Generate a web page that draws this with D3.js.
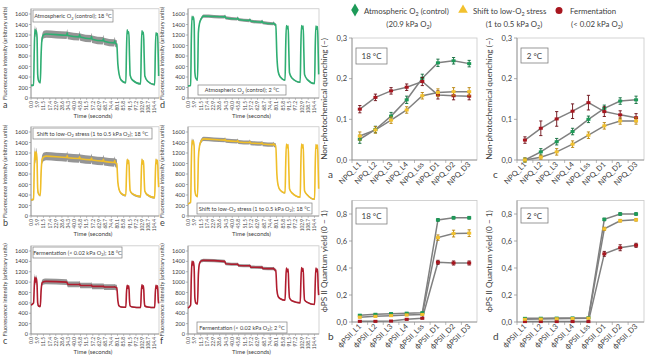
<!DOCTYPE html>
<html><head><meta charset="utf-8">
<script src="https://cdn.jsdelivr.net/npm/d3@7"></script>
<style>body{margin:0;background:#fff} svg{display:block} text{font-family:Lato,"Open Sans",sans-serif;fill:#404040}</style>
</head><body><svg id="c" width="650" height="364"></svg>
<script>
// ---------- DATA ----------
const timeKeys = [0,2.4,3.0,3.6,4.4,5.0,5.6,6.2,7.0,8.6,9.4,10.4,12.0,14.0,33.0,33.5,34.1,44.5,45.0,45.6,55.5,56.0,56.6,66.5,67.0,67.6,77.0,77.5,78.1,79.4,80.4,81.6,83.5,87.8,88.4,89.0,89.8,90.6,91.2,91.8,94.0,101.5,102.1,102.7,103.5,104.2,104.8,105.4,108.0,114.5,115.1,115.7,116.5,117.2,117.8,118.2];
const lightPhase = [0,0,1,1,1,1,1,1,0,0,1,1,1,1,1,1,1,1,1,1,1,1,1,1,1,1,1,1,1,1,0,0,0,0,0,0,0,0,0,0,0,0,0,0,0,0,0,0,0,0,0,0,0,0,0,0];
const timeTickLabels = ["0.0","5.9","11.5","17.4","22.9","28.6","34.3","40.0","45.8","51.5","57.2","62.9","68.7","74.4","80.1","85.8","91.5","97.2","102.9","108.7","114.4"];
const fluorTicks = [0,200,400,600,800,1000,1200,1400,1600];

const fluorControl18 = [240,245,900,1310,1230,1280,1150,450,330,290,850,1150,1210,1220,1195,1240,1190,1165,1210,1160,1130,1170,1120,1090,1130,1080,1050,1090,1040,1030,650,450,340,290,900,1300,1230,1260,800,430,340,270,900,1280,1220,1250,780,420,320,255,880,1240,1200,1230,780,420];
const fluorLowO2_18 = [305,320,900,1230,1080,1220,1050,520,420,390,850,1080,1130,1140,1115,1150,1110,1095,1130,1090,1070,1105,1065,1045,1080,1040,1020,1055,1010,1000,650,500,430,390,800,1080,1000,1060,700,480,420,370,800,1080,990,1050,700,470,400,350,780,1080,1000,1060,700,550];
const fluorFerm18 = [560,600,900,1100,1000,1080,950,600,540,530,850,990,1010,1015,1000,985,955,955,965,935,935,945,918,918,925,905,905,910,900,895,650,540,520,515,800,940,880,930,650,540,520,510,800,950,880,930,650,540,520,510,800,940,880,930,650,590];
const fluorControl2 = [230,240,1100,1550,1500,1540,1400,500,380,340,1250,1420,1510,1560,1545,1560,1525,1505,1525,1495,1475,1495,1465,1445,1465,1435,1415,1430,1405,1395,800,500,400,340,1000,1380,1320,1370,900,480,380,300,1000,1380,1320,1370,880,450,350,275,980,1370,1310,1360,850,450];
const fluorLowO2_2 = [230,260,1000,1440,1380,1430,1300,500,400,370,1100,1330,1430,1470,1445,1460,1435,1420,1435,1410,1400,1415,1390,1380,1395,1370,1360,1375,1350,1345,800,580,490,440,1000,1370,1300,1360,900,520,440,360,1000,1370,1300,1360,880,480,400,320,980,1360,1290,1350,880,520];
const fluorFerm2 = [500,560,1100,1400,1330,1390,1250,700,600,580,1150,1360,1410,1420,1400,1390,1355,1345,1350,1320,1315,1320,1290,1285,1290,1265,1260,1265,1240,1230,850,720,680,650,1000,1270,1200,1250,900,700,640,600,1000,1280,1210,1260,880,660,610,570,980,1270,1200,1250,880,750];
// band half-widths [dark, light]
const sdControl18 = [15,70], sdLowO2_18 = [20,80], sdFerm18 = [15,55];
const sdControl2 = [12,30], sdLowO2_2 = [12,40], sdFerm2 = [12,30];

const npqCats = ["NPQ_L1","NPQ_L2","NPQ_L3","NPQ_L4","NPQ_Lss","NPQ_D1","NPQ_D2","NPQ_D3"];
const phiCats = ["ϕPSII_L1","ϕPSII_L2","ϕPSII_L3","ϕPSII_L4","ϕPSII_Lss","ϕPSII_D1","ϕPSII_D2","ϕPSII_D3"];
const npqTicks = [0,0.1,0.2,0.3];
const phiTicks = [0,0.2,0.4,0.6,0.8];

const npq18Control = [0.051,0.075,0.108,0.148,0.201,0.239,0.244,0.237];
const npq18Shift   = [0.059,0.074,0.098,0.123,0.158,0.166,0.168,0.168];
const npq18Ferm    = [0.125,0.154,0.170,0.179,0.193,0.160,0.158,0.157];
const npq18ControlErr = [0.010,0.008,0.009,0.009,0.010,0.009,0.008,0.008];
const npq18ShiftErr   = [0.010,0.008,0.008,0.008,0.008,0.009,0.010,0.010];
const npq18FermErr    = [0.009,0.008,0.008,0.008,0.010,0.010,0.010,0.009];

const npq2Control = [0.000,0.020,0.045,0.070,0.100,0.127,0.145,0.148];
const npq2Shift   = [0.000,0.007,0.020,0.039,0.061,0.084,0.096,0.096];
const npq2Ferm    = [0.049,0.078,0.101,0.120,0.141,0.119,0.111,0.104];
const npq2ControlErr = [0.005,0.008,0.008,0.008,0.008,0.008,0.008,0.009];
const npq2ShiftErr   = [0.005,0.005,0.008,0.008,0.008,0.008,0.008,0.008];
const npq2FermErr    = [0.008,0.018,0.018,0.018,0.018,0.012,0.010,0.010];

const phi18Control = [0.050,0.057,0.062,0.065,0.068,0.756,0.772,0.772];
const phi18Shift   = [0.036,0.042,0.047,0.052,0.056,0.625,0.655,0.658];
const phi18Ferm    = [0.005,0.005,0.007,0.020,0.028,0.442,0.437,0.437];
const phi18ControlErr = [0.006,0.006,0.006,0.006,0.006,0.010,0.010,0.010];
const phi18ShiftErr   = [0.006,0.006,0.006,0.006,0.006,0.020,0.025,0.025];
const phi18FermErr    = [0.004,0.004,0.004,0.006,0.006,0.015,0.015,0.015];

const phi2Control = [0.027,0.028,0.029,0.030,0.031,0.760,0.800,0.800];
const phi2Shift   = [0.020,0.022,0.024,0.026,0.028,0.690,0.750,0.757];
const phi2Ferm    = [0.003,0.003,0.003,0.003,0.003,0.505,0.550,0.568];
const phi2ControlErr = [0.004,0.004,0.004,0.004,0.004,0.010,0.010,0.010];
const phi2ShiftErr   = [0.004,0.004,0.004,0.004,0.004,0.012,0.010,0.010];
const phi2FermErr    = [0.003,0.003,0.003,0.003,0.003,0.018,0.022,0.015];

// ---------- STYLE ----------
const C = {
  green:{line:"#2fae72", mk:"#1d9a58", err:"#0f6a3a"},
  yellow:{line:"#f0be28", mk:"#f2c12e", err:"#b9850c"},
  red:{line:"#b01c2e", mk:"#a8161f", err:"#6a0c14"}
};
const svg = d3.select("#c");

function rich(textSel, str, fs){
  const parts = str.split(/(\{[^}]*\})/).filter(p=>p.length);
  let shifted=false;
  parts.forEach(p=>{
    if(p[0]==="{"){
      textSel.append("tspan").attr("dy",fs*0.3).attr("font-size",fs*0.7).text(p.slice(1,-1));
      shifted=true;
    } else {
      const t=textSel.append("tspan").text(p);
      if(shifted){t.attr("dy",-fs*0.3); shifted=false;}
    }
  });
  return textSel;
}

// ---------- FLUORESCENCE PANELS ----------
const tracePanels = [
  {letter:"a", vals:fluorControl18, sd:sdControl18, col:C.green, label:"Atmospheric O{2} (control); 18 °C", L:31, R:159, y0:98, y16:14, box:{x:33,y:10,w:80,h:12}},
  {letter:"d", vals:fluorControl2, sd:sdControl2, col:C.green, label:"Atmospheric O{2} (control); 2 °C", L:188, R:319, y0:98, y16:14, box:{x:198,y:85,w:88,h:10}},
  {letter:"b", vals:fluorLowO2_18, sd:sdLowO2_18, col:C.yellow, label:"Shift to low-O{2} stress (1 to 0.5 kPa O{2}); 18 °C", L:31, R:159, y0:216, y16:132, box:{x:33,y:128,w:119,h:11}},
  {letter:"e", vals:fluorLowO2_2, sd:sdLowO2_2, col:C.yellow, label:"Shift to low-O{2} stress (1 to 0.5 kPa O{2}); 18 °C", L:188, R:319, y0:216, y16:132, box:{x:197,y:203,w:115,h:11}},
  {letter:"c", vals:fluorFerm18, sd:sdFerm18, col:C.red, label:"Fermentation (< 0.02 kPa O{2}); 18 °C", L:31, R:159, y0:334, y16:251, box:{x:33,y:247,w:89,h:11}},
  {letter:"f", vals:fluorFerm2, sd:sdFerm2, col:C.red, label:"Fermentation (< 0.02 kPa O{2}); 2 °C", L:188, R:319, y0:334, y16:251, box:{x:197,y:322,w:90,h:11}}
];

tracePanels.forEach(p=>{
  const x = d3.scaleLinear().domain([0,118.5]).range([p.L,p.R]);
  const y = d3.scaleLinear().domain([0,1600]).range([p.y0,p.y16]);
  const top = y(1700);
  const g = svg.append("g");
  g.append("rect").attr("x",p.L).attr("y",top).attr("width",p.R-p.L).attr("height",p.y0-top)
    .attr("fill","#fff").attr("stroke","#c8c8c8").attr("stroke-width",0.8);
  g.append("line").attr("x1",p.L).attr("x2",p.L).attr("y1",top).attr("y2",p.y0).attr("stroke","#8c8c8c").attr("stroke-width",0.8);
  g.append("line").attr("x1",p.L).attr("x2",p.R).attr("y1",p.y0).attr("y2",p.y0).attr("stroke","#8c8c8c").attr("stroke-width",0.8);
  fluorTicks.forEach(v=>{
    g.append("line").attr("x1",p.L-2).attr("x2",p.L).attr("y1",y(v)).attr("y2",y(v)).attr("stroke","#8c8c8c").attr("stroke-width",0.6);
    g.append("text").attr("x",p.L-3).attr("y",y(v)+2).attr("text-anchor","end").attr("font-size",5.6).text(v);
  });
  timeTickLabels.forEach(s=>{
    const v=+s, xx=x(v);
    g.append("line").attr("x1",xx).attr("x2",xx).attr("y1",p.y0).attr("y2",p.y0+2).attr("stroke","#8c8c8c").attr("stroke-width",0.5);
    g.append("text").attr("transform",`translate(${xx+1.8},${p.y0+3}) rotate(-90)`).attr("text-anchor","end").attr("font-size",4.8).text(s);
  });
  g.append("text").attr("transform",`translate(${p.L-24},${(top+p.y0)/2}) rotate(-90)`).attr("text-anchor","middle").attr("font-size",5.6).text("Fluorescence intensity (arbitrary units)");
  g.append("text").attr("x",(p.L+p.R)/2-2).attr("y",p.y0+20).attr("text-anchor","middle").attr("font-size",6).text("Time (seconds)");
  g.append("text").attr("x",p.L-28).attr("y",p.y0+10).attr("font-size",9).attr("fill","#333").text(p.letter);
  const pts = timeKeys.map((t,i)=>({t, v:p.vals[i], s:p.sd[lightPhase[i]]}));
  g.append("path").datum(pts).attr("fill","#8a8a8a").attr("opacity",0.9)
    .attr("d",d3.area().x(d=>x(d.t)).y0(d=>y(d.v-d.s)).y1(d=>y(d.v+d.s)).curve(d3.curveMonotoneX));
  g.append("path").datum(pts).attr("fill","none").attr("stroke",p.col.line).attr("stroke-width",1.6)
    .attr("d",d3.line().x(d=>x(d.t)).y(d=>y(d.v)).curve(d3.curveMonotoneX));
  g.append("rect").attr("x",p.box.x).attr("y",p.box.y).attr("width",p.box.w).attr("height",p.box.h)
    .attr("fill","#fff").attr("stroke","#7f7f7f").attr("stroke-width",0.7);
  rich(g.append("text").attr("x",p.box.x+p.box.w/2).attr("y",p.box.y+p.box.h/2+2).attr("text-anchor","middle").attr("font-size",5.6).attr("fill","#222"), p.label, 5.6);
});

// ---------- LEGEND ----------
const lg = svg.append("g");
lg.append("path").attr("d",d3.symbol(d3.symbolDiamond,50)()).attr("transform","translate(355,10)").attr("fill",C.green.mk);
lg.append("path").attr("d",d3.symbol(d3.symbolTriangle,40)()).attr("transform","translate(463,10)").attr("fill",C.yellow.mk);
lg.append("circle").attr("cx",559).attr("cy",10.5).attr("r",3.5).attr("fill",C.red.mk);
const legTexts = [
  {x:364,y:14,a:"start",t:"Atmospheric O{2} (control)"},
  {x:409,y:27,a:"middle",t:"(20.9 kPa O{2})"},
  {x:473,y:14,a:"start",t:"Shift to low-O{2} stress"},
  {x:514,y:27,a:"middle",t:"(1 to 0.5 kPa O{2})"},
  {x:570,y:14,a:"start",t:"Fermentation"},
  {x:597,y:27,a:"middle",t:"(< 0.02 kPa O{2})"}
];
legTexts.forEach(d=>rich(lg.append("text").attr("x",d.x).attr("y",d.y).attr("text-anchor",d.a).attr("font-size",7.8).attr("fill","#333"), d.t, 7.8));

// ---------- RIGHT PANELS ----------
const rightPanels = [
  {letter:"a", cats:npqCats, ticks:npqTicks, dom:[0,0.3], L:352, R:477, y0:160, yT:38, temp:"18 °C", tb:{x:356,y:48,w:31,h:16},
   ylab:"Non-photochemical quenching (−)", series:[[npq18Control,npq18ControlErr,C.green],[npq18Ferm,npq18FermErr,C.red],[npq18Shift,npq18ShiftErr,C.yellow]]},
  {letter:"c", cats:npqCats, ticks:npqTicks, dom:[0,0.3], L:517, R:644, y0:160, yT:38, temp:"2 °C", tb:{x:521,y:48,w:27,h:15},
   ylab:"Non-photochemical quenching (−)", series:[[npq2Control,npq2ControlErr,C.green],[npq2Ferm,npq2FermErr,C.red],[npq2Shift,npq2ShiftErr,C.yellow]]},
  {letter:"b", cats:phiCats, ticks:phiTicks, dom:[0,0.9], L:352, R:477, y0:322, yT:200.5, temp:"18 °C", tb:{x:356,y:208,w:31,h:16},
   ylab:"ϕPS II Quantum yield (0 − 1)", series:[[phi18Control,phi18ControlErr,C.green],[phi18Ferm,phi18FermErr,C.red],[phi18Shift,phi18ShiftErr,C.yellow]]},
  {letter:"d", cats:phiCats, ticks:phiTicks, dom:[0,0.9], L:517, R:644, y0:322, yT:200.5, temp:"2 °C", tb:{x:521,y:208,w:27,h:15},
   ylab:"ϕPS II Quantum yield (0 − 1)", series:[[phi2Control,phi2ControlErr,C.green],[phi2Ferm,phi2FermErr,C.red],[phi2Shift,phi2ShiftErr,C.yellow]]}
];
const fmt = v=>v.toFixed(1).replace(".",",");
rightPanels.forEach(p=>{
  const x = d3.scaleBand().domain(p.cats).range([p.L,p.R]);
  const y = d3.scaleLinear().domain(p.dom).range([p.y0,p.yT]);
  const g = svg.append("g");
  g.append("rect").attr("x",p.L).attr("y",p.yT).attr("width",p.R-p.L).attr("height",p.y0-p.yT)
    .attr("fill","#fff").attr("stroke","#c8c8c8").attr("stroke-width",0.8);
  g.append("line").attr("x1",p.L).attr("x2",p.L).attr("y1",p.yT).attr("y2",p.y0).attr("stroke","#8c8c8c").attr("stroke-width",0.8);
  g.append("line").attr("x1",p.L).attr("x2",p.R).attr("y1",p.y0).attr("y2",p.y0).attr("stroke","#8c8c8c").attr("stroke-width",0.8);
  p.ticks.forEach(v=>{
    g.append("line").attr("x1",p.L-3).attr("x2",p.L).attr("y1",y(v)).attr("y2",y(v)).attr("stroke","#8c8c8c").attr("stroke-width",0.7);
    g.append("text").attr("x",p.L-5).attr("y",y(v)+2.5).attr("text-anchor","end").attr("font-size",7.5).text(fmt(v));
  });
  p.cats.forEach(c=>{
    const xx = x(c)+x.bandwidth()/2;
    g.append("line").attr("x1",x(c)).attr("x2",x(c)).attr("y1",p.y0).attr("y2",p.y0+3).attr("stroke","#8c8c8c").attr("stroke-width",0.6);
    g.append("text").attr("transform",`translate(${xx+2},${p.y0+5}) rotate(-45)`).attr("text-anchor","end").attr("font-size",7.5).text(c);
  });
  g.append("text").attr("transform",`translate(${p.L-25},${(p.yT+p.y0)/2}) rotate(-90)`).attr("text-anchor","middle").attr("font-size",8.2).attr("fill","#333").text(p.ylab);
  g.append("text").attr("x",p.L-24).attr("y",p.y0+18).attr("font-size",10).attr("fill","#333").text(p.letter);
  g.append("rect").attr("x",p.tb.x).attr("y",p.tb.y).attr("width",p.tb.w).attr("height",p.tb.h)
    .attr("fill","#fff").attr("stroke","#7f7f7f").attr("stroke-width",0.8);
  g.append("text").attr("x",p.tb.x+p.tb.w/2).attr("y",p.tb.y+p.tb.h/2+3).attr("text-anchor","middle").attr("font-size",8).attr("fill","#222").text(p.temp);
  const line = d3.line().x((d,i)=>x(p.cats[i])+x.bandwidth()/2).y(d=>y(d));
  p.series.forEach(([vals])=>{
    g.append("path").datum(vals).attr("fill","none").attr("stroke","#808080").attr("stroke-width",1.5).attr("d",line);
  });
  p.series.forEach(([vals,errs,col])=>{
    vals.forEach((v,i)=>{
      const xx = x(p.cats[i])+x.bandwidth()/2;
      g.append("line").attr("x1",xx).attr("x2",xx).attr("y1",y(v-errs[i])).attr("y2",y(v+errs[i])).attr("stroke",col.err).attr("stroke-width",0.9);
      [v-errs[i],v+errs[i]].forEach(e=>g.append("line").attr("x1",xx-1.6).attr("x2",xx+1.6).attr("y1",y(e)).attr("y2",y(e)).attr("stroke",col.err).attr("stroke-width",0.9));
      g.append("rect").attr("x",xx-2).attr("y",y(v)-1.5).attr("width",4).attr("height",3).attr("fill",col.mk);
    });
  });
});
</script></body></html>
